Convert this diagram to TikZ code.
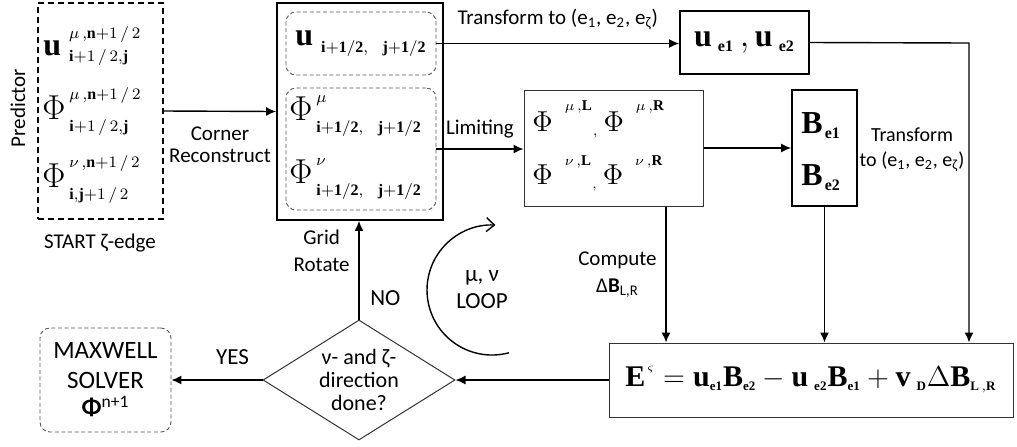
\documentclass[tikz,border=0pt]{standalone}
\usepackage{fontspec}
\setmainfont{Carlito}
\setmathrm{Liberation Serif}
\usepackage{tikz}
\usetikzlibrary{arrows.meta,positioning,shapes.geometric}
\DeclareMathSizes{16}{16}{8}{6}
\DeclareMathSizes{15.5}{15.5}{7.5}{5.5}
\DeclareMathSizes{15}{15}{6.5}{5}
\definecolor{ink}{HTML}{000000}
\definecolor{muted}{HTML}{555555}
\newcommand{\padsym}[2][4pt]{{#2\hspace{#1}}}
\newcommand{\hisup}[2][2pt]{\raisebox{#1}{$\scriptstyle #2$}}
\newcommand{\losub}[2][1.5pt]{\raisebox{-#1}{$\scriptstyle #2$}}
% fixed superscript/subscript pair: raise of sup, sup, drop of sub, sub
\newcommand{\supsub}[4]{^{\smash{\raisebox{#1}{$\scriptstyle #2$}}}_{\smash{\raisebox{-#3}{$\scriptstyle #4$}}}}
\newcommand{\half}{1\,/\,2}

\begin{document}
\begin{tikzpicture}[
  x=0.5pt, y=-0.5pt,
  font=\fontsize{10.5}{11}\selectfont,
  mathfont/.style={font=\fontsize{16}{18}\selectfont, inner sep=0pt},
  limfont/.style={font=\fontsize{15.5}{18}\selectfont, inner sep=0pt},
  thickbox/.style={draw=ink, line width=0.9pt, inner sep=0pt},
  thinbox/.style={draw=ink!80, line width=0.5pt, inner sep=0pt},
  dbox/.style={draw=muted, dash pattern=on 2pt off 1.3pt, line width=0.45pt,
    rounded corners=5pt, inner sep=0pt},
  flow/.style={-{Latex[length=5pt,width=4.5pt]}, draw=ink, line width=0.7pt},
]
  \useasboundingbox (0,0) rectangle (1017,446);

  % predictor values (start of the zeta-edge)
  \node[thickbox, dash pattern=on 3pt off 2pt, minimum width=62.5pt,
    minimum height=108pt] (pred) at (100.5,111) {};
  \node[rotate=90] (predlbl) at (18,108) {Predictor};
  \node[mathfont, anchor=base west] (pu) at (43,55)
    {$\padsym{\mathbf{u}}\supsub{2pt}{\mu\,,\mathbf{n}+\half}{-1pt}{\mathbf{i}+\half,\mathbf{j}}$};
  \node[mathfont, anchor=base west] (pphimu) at (42,119)
    {$\padsym[2pt]{\Phi}\supsub{1pt}{\mu\,,\mathbf{n}+\half}{2pt}{\mathbf{i}+\half,\mathbf{j}}$};
  \node[mathfont, anchor=base west] (pphinu) at (42,187)
    {$\padsym[2pt]{\Phi}\supsub{1pt}{\nu\,,\mathbf{n}+\half}{2pt}{\mathbf{i},\mathbf{j}+\half}$};
  \node (startlbl) at (100,243) {START ζ-edge};

  % corner values
  \node[thickbox, minimum width=83pt, minimum height=108.5pt] (corner) at (360,111.5) {};
  \node[dbox, minimum width=75pt, minimum height=31.5pt] (ubox) at (361,43.5) {};
  \node[mathfont, anchor=base west] (uc) at (295,45)
    {$\padsym{\mathbf{u}}_{\losub[1pt]{\mathbf{i+1/2,\ \ j+1/2}}}$};
  \node[dbox, minimum width=75pt, minimum height=61pt] (phibox) at (361,149) {};
  \node[mathfont, anchor=base west] (phimu) at (289,120)
    {$\padsym[2pt]{\Phi}^{\mu}_{\losub[2pt]{\mathbf{i+1/2,\ \ j+1/2}}}$};
  \node[mathfont, anchor=base west] (phinu) at (289,183)
    {$\padsym[2pt]{\Phi}^{\nu}_{\losub[2pt]{\mathbf{i+1/2,\ \ j+1/2}}}$};

  \node[thickbox, minimum width=64.5pt, minimum height=31.5pt, mathfont] (uebox) at (744.5,42.5)
    {$\padsym[3pt]{\mathbf{u}}_{\mathbf{e1}}\,,\padsym[3pt]{\mathbf{u}}_{\mathbf{e2}}$};

  \node[thinbox, minimum width=89.5pt, minimum height=58pt] (limbox) at (613.5,148) {};
  \node[limfont, anchor=base west] (lim1) at (532,131)
    {$\padsym[6pt]{\Phi}^{\hisup[3pt]{\mu\,,\mathbf{L}}}{}_{,}\,\padsym[6pt]{\Phi}^{\hisup[3pt]{\mu\,,\mathbf{R}}}$};
  \node[limfont, anchor=base west] (lim2) at (532,184)
    {$\padsym[6pt]{\Phi}^{\hisup[2pt]{\nu\,,\mathbf{L}}}{}_{,}\,\padsym[6pt]{\Phi}^{\hisup[2pt]{\nu\,,\mathbf{R}}}$};

  \node[thickbox, minimum width=32.5pt, minimum height=58pt] (bbox) at (824.5,148) {};
  \node[mathfont, anchor=base west] (b1) at (801,133) {$\padsym[1pt]{\mathbf{B}}_{\mathbf{e1}}$};
  \node[mathfont, anchor=base west] (b2) at (801,185) {$\padsym[1pt]{\mathbf{B}}_{\mathbf{e2}}$};
  \node[align=center, font=\fontsize{10}{12.5}\selectfont] (xformlbl) at (912,150)
    {Transform\\to (e\textsubscript{1}, e\textsubscript{2}, e\textsubscript{ζ})};

  \node[thinbox, minimum width=202pt, minimum height=37pt, font=\fontsize{15}{18}\selectfont] (ebox) at (811,380)
    {$\padsym[1pt]{\mathbf{E}}^{\varsigma} = \mathbf{u}_{\mathbf{e1}}\mathbf{B}_{\mathbf{e2}}
      - \padsym[3pt]{\mathbf{u}}_{\mathbf{e2}}\mathbf{B}_{\mathbf{e1}}
      + \padsym[3pt]{\mathbf{v}}_{\mathbf{D}}\Delta\mathbf{B}_{\mathbf{L\,,R}}$};

  \node[thinbox, diamond, aspect=1.6, minimum width=96pt, minimum height=60pt,
    align=center, font=\fontsize{11}{11.5}\selectfont] (dec) at (359,380)
    {ν- and ζ-\\direction\\done?};
  \node[dbox, minimum width=65.5pt, minimum height=52pt, align=center,
    font=\fontsize{12.5}{13.5}\selectfont] (maxwell) at (105.5,380)
    {MAXWELL\\[1.5pt]SOLVER\\\textbf{Φ}\textsuperscript{n+1}};

  \node[align=center, font=\fontsize{11.5}{13.5}\selectfont] (looplbl) at (482,290)
    {μ, ν\\LOOP};
  \draw[line width=0.7pt, -{Straight Barb[length=4pt,width=7pt]}]
    (492,290) ++(75:65) arc[start angle=75, end angle=273, radius=65];

  \coordinate (rc) at (969,43);
  \coordinate (cmpx) at (666,0);

  \draw[flow] (pred.east) -- node[below=4pt, align=center] {Corner\\Reconstruct} (corner.west);
  \draw[flow] (ubox.east) -- node[above=3pt]
    {Transform to (e\textsubscript{1}, e\textsubscript{2}, e\textsubscript{ζ})} (ubox.east -| uebox.west);
  \draw[flow] (phibox.east) -- node[above=2pt] {Limiting} (phibox.east -| limbox.west);
  \draw[flow] (limbox.east) -- (bbox.west);
  \draw[flow] (uebox.east) -- (rc) -- (rc |- ebox.north);
  \draw[flow] (cmpx |- limbox.south) -- node[left=1pt, align=center,
    font=\fontsize{10.5}{13.5}\selectfont] {Compute\\Δ\textbf{B}\textsubscript{L,R}} (cmpx |- ebox.north);
  \draw[flow] (bbox.south) -- (bbox.south |- ebox.north);
  \draw[flow] (ebox.west) -- (dec.east);
  \draw[flow] (dec.west) -- node[above=4pt, pos=0.33, font=\fontsize{11.5}{13}\selectfont] {YES} (maxwell.east);
  \draw[flow] (dec.north) -- node[right=2pt, pos=0.22, font=\fontsize{11.5}{13}\selectfont] {NO}
    node[left=1pt, pos=0.7, align=center, font=\fontsize{10.5}{13.5}\selectfont] {Grid\\Rotate}
    (dec.north |- corner.south);
\end{tikzpicture}
\end{document}
